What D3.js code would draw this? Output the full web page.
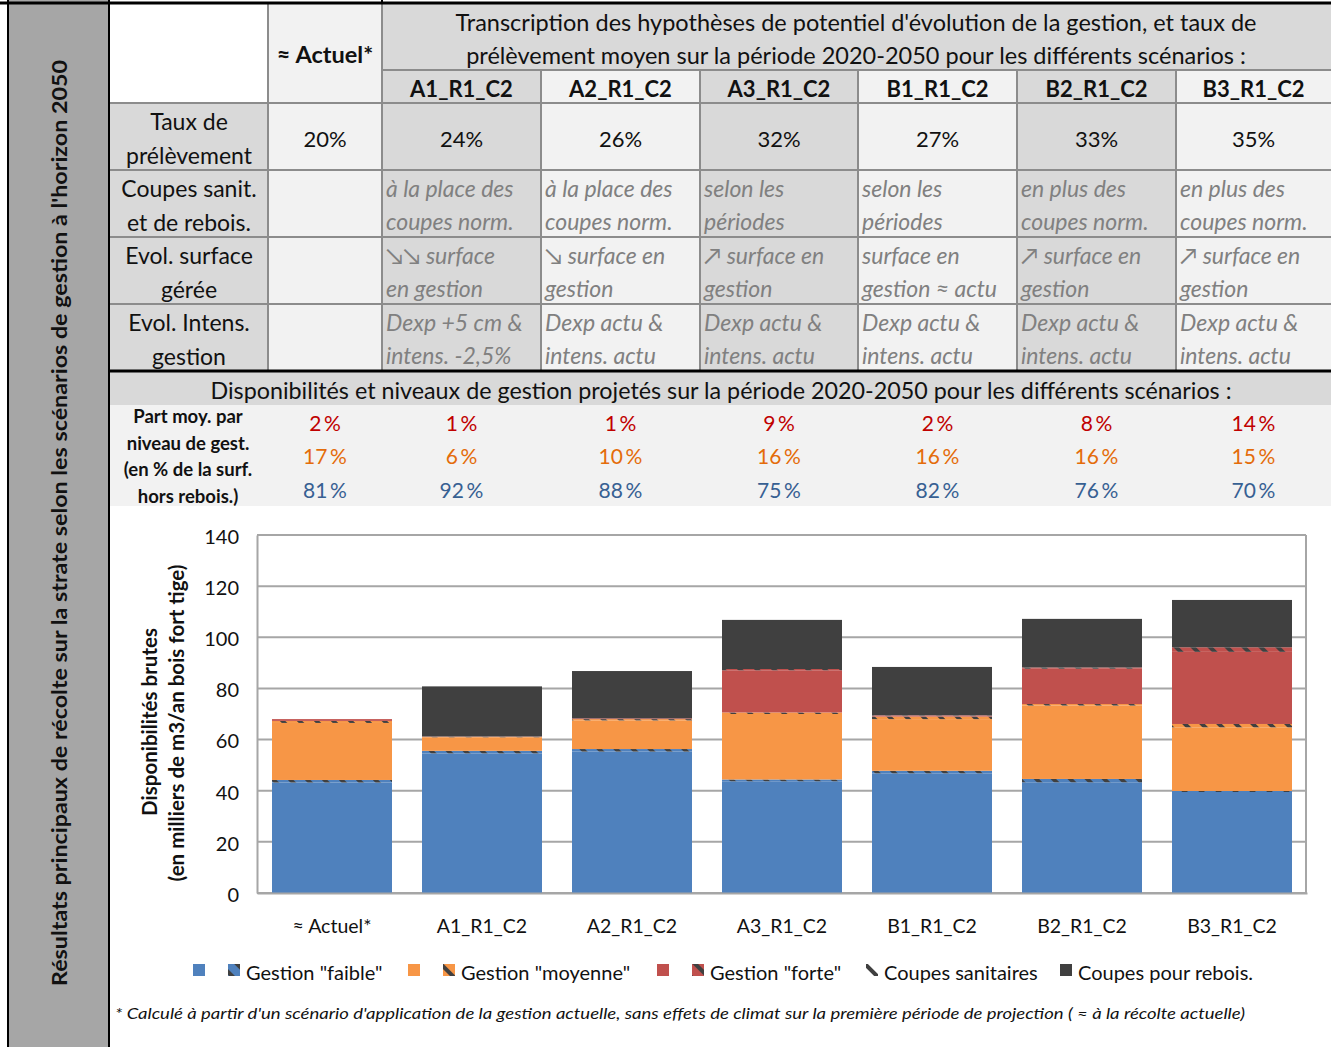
<!DOCTYPE html>
<html><head><meta charset="utf-8">
<script src="https://cdn.jsdelivr.net/npm/d3@7"></script>
<style>
body{margin:0;background:#fff}
svg{display:block}
text{font-family:Lato,'Open Sans','DejaVu Sans',sans-serif}
</style>
</head><body><div id="c"></div>
<script>
// ---------- data ----------
const categories = ["≈ Actuel*", "A1_R1_C2", "A2_R1_C2", "A3_R1_C2", "B1_R1_C2", "B2_R1_C2", "B3_R1_C2"];
const scenarios = ["A1_R1_C2", "A2_R1_C2", "A3_R1_C2", "B1_R1_C2", "B2_R1_C2", "B3_R1_C2"];
const tauxPrelevement = ["20%", "24%", "26%", "32%", "27%", "33%", "35%"];
const rowLabels = [["Taux de", "prélèvement"], ["Coupes sanit.", "et de rebois."], ["Evol. surface", "gérée"], ["Evol. Intens.", "gestion"]];
const coupesRow = [["", ""], ["à la place des", "coupes norm."], ["à la place des", "coupes norm."], ["selon les", "périodes"], ["selon les", "périodes"], ["en plus des", "coupes norm."], ["en plus des", "coupes norm."]];
const surfaceRow = [["", ""], ["↘↘ surface", "en gestion"], ["↘ surface en", "gestion"], ["↗ surface en", "gestion"], ["surface en", "gestion ≈ actu"], ["↗ surface en", "gestion"], ["↗ surface en", "gestion"]];
const intensRow = [["", ""], ["Dexp +5 cm &", "intens. -2,5%"], ["Dexp actu &", "intens. actu"], ["Dexp actu &", "intens. actu"], ["Dexp actu &", "intens. actu"], ["Dexp actu &", "intens. actu"], ["Dexp actu &", "intens. actu"]];
const partForte = [2, 1, 1, 9, 2, 8, 14];
const partMoyenne = [17, 6, 10, 16, 16, 16, 15];
const partFaible = [81, 92, 88, 75, 82, 76, 70];
const partLabels = ["Part moy. par", "niveau de gest.", "(en % de la surf.", "hors rebois.)"];

// volumes (milliers de m3/an)
const gestFaible      = [43.2, 54.6, 55.3, 43.7, 46.8, 43.3, 39.5];
const gestFaibleSanit = [1.0, 1.0, 1.0, 0.7, 1.0, 1.3, 0.4];
const gestMoyenne     = [22.3, 5.3, 11.2, 25.6, 20.2, 28.7, 24.9];
const gestMoyenneSanit= [0.8, 0.2, 0.5, 0.6, 1.0, 0.6, 1.3];
const gestForte       = [0.7, 0.1, 0.3, 16.5, 0.3, 13.8, 28.2];
const gestForteSanit  = [0.0, 0.0, 0.0, 0.5, 0.2, 0.5, 1.8];
const coupesRebois    = [0.0, 19.6, 18.5, 19.2, 18.9, 19.0, 18.5];
const yTicks = [0, 20, 40, 60, 80, 100, 120, 140];
const legendItems = [
  {key: "faible", label: ""}, {key: "faibleSanit", label: "Gestion \"faible\""},
  {key: "moyenne", label: ""}, {key: "moyenneSanit", label: "Gestion \"moyenne\""},
  {key: "forte", label: ""}, {key: "forteSanit", label: "Gestion \"forte\""},
  {key: "sanit", label: "Coupes sanitaires"}, {key: "rebois", label: "Coupes pour rebois."}
];

// ---------- setup ----------
const W = 1331, H = 1047;
const svg = d3.select("#c").append("svg").attr("width", W).attr("height", H);
const defs = svg.append("defs");
const colors = {faible: "#4f81bd", moyenne: "#f79646", forte: "#c0504d", rebois: "#404040", sanit: "#ffffff"};
function hatch(id, base) {
  const p = defs.append("pattern").attr("id", id).attr("patternUnits", "userSpaceOnUse")
    .attr("width", 12).attr("height", 12).attr("patternTransform", "rotate(-45)");
  p.append("rect").attr("width", 12).attr("height", 12).attr("fill", base);
  p.append("rect").attr("x", 0).attr("width", 4).attr("height", 12).attr("fill", "#404040");
}
hatch("hb", colors.faible); hatch("ho", colors.moyenne); hatch("hr", colors.forte); hatch("hs", "#ffffff");
const fills = {faible: colors.faible, faibleSanit: "url(#hb)", moyenne: colors.moyenne, moyenneSanit: "url(#ho)",
  forte: colors.forte, forteSanit: "url(#hr)", sanit: "url(#hs)", rebois: colors.rebois};

const lineGray = "#8c8c8c";
const dark = "#d9d9d9", light = "#f2f2f2";
const TF = 23; // table font size

// ---------- left column ----------
svg.append("rect").attr("x", 8).attr("y", 0).attr("width", 101).attr("height", H).attr("fill", "#a6a6a6");
svg.append("line").attr("x1", 8).attr("x2", 8).attr("y1", 0).attr("y2", H).attr("stroke", "#000").attr("stroke-width", 2);
svg.append("line").attr("x1", 109).attr("x2", 109).attr("y1", 0).attr("y2", H).attr("stroke", "#000").attr("stroke-width", 2);
svg.append("text").attr("transform", "translate(67,523) rotate(-90)").attr("text-anchor", "middle")
  .attr("font-size", 21).attr("font-weight", "bold").attr("fill", "#111")
  .attr("textLength", 926).attr("lengthAdjust", "spacingAndGlyphs")
  .text("Résultats principaux de récolte sur la strate selon les scénarios de gestion à l'horizon 2050");

// ---------- table ----------
const colEdges = [110, 268, 382, 541, 700, 858, 1017, 1176, 1331];
const rowEdges = [103, 170, 237, 304, 371];
const colFill = i => i === 0 ? dark : (i === 1 ? light : ((i - 2) % 2 === 0 ? dark : light));
const tbl = svg.append("g");
// header
tbl.append("rect").attr("x", 110).attr("y", 4).attr("width", 158).attr("height", 99).attr("fill", "#fff");
tbl.append("rect").attr("x", 268).attr("y", 4).attr("width", 114).attr("height", 99).attr("fill", light);
tbl.append("rect").attr("x", 382).attr("y", 4).attr("width", 949).attr("height", 66).attr("fill", dark);
scenarios.forEach((s, j) => {
  const x0 = colEdges[j + 2], x1 = colEdges[j + 3];
  tbl.append("rect").attr("x", x0).attr("y", 70).attr("width", x1 - x0).attr("height", 33).attr("fill", colFill(j + 2));
  tbl.append("text").attr("x", (x0 + x1) / 2).attr("y", 97).attr("text-anchor", "middle")
    .attr("font-size", 22).attr("font-weight", "bold").attr("fill", "#111").text(s);
});
tbl.append("text").attr("x", 325).attr("y", 63).attr("text-anchor", "middle").attr("font-size", 23.5)
  .attr("font-weight", "bold").attr("fill", "#111").text("≈ Actuel*");
tbl.append("text").attr("x", 856).attr("y", 31).attr("text-anchor", "middle").attr("font-size", 23.5).attr("fill", "#111")
  .text("Transcription des hypothèses de potentiel d'évolution de la gestion, et taux de");
tbl.append("text").attr("x", 856).attr("y", 64).attr("text-anchor", "middle").attr("font-size", 23.5).attr("fill", "#111")
  .text("prélèvement moyen sur la période 2020-2050 pour les différents scénarios :");

// body rows
const rowData = [null, coupesRow, surfaceRow, intensRow];
rowLabels.forEach((lab, r) => {
  const y0 = rowEdges[r], y1 = rowEdges[r + 1];
  for (let i = 0; i < 8; i++) {
    tbl.append("rect").attr("x", colEdges[i]).attr("y", y0).attr("width", colEdges[i + 1] - colEdges[i])
      .attr("height", y1 - y0).attr("fill", colFill(i));
  }
  tbl.append("text").attr("x", 189).attr("y", y0 + 27).attr("text-anchor", "middle").attr("font-size", TF).attr("fill", "#111").text(lab[0]);
  tbl.append("text").attr("x", 189).attr("y", y0 + 61).attr("text-anchor", "middle").attr("font-size", TF).attr("fill", "#111").text(lab[1]);
  if (r === 0) {
    tauxPrelevement.forEach((t, i) => {
      tbl.append("text").attr("x", (colEdges[i + 1] + colEdges[i + 2]) / 2).attr("y", y0 + 44)
        .attr("text-anchor", "middle").attr("font-size", 22).attr("fill", "#111").text(t);
    });
  } else {
    rowData[r].forEach((t, i) => {
      const x = colEdges[i + 1] + 4;
      tbl.append("text").attr("x", x).attr("y", y0 + 27).attr("font-size", TF).attr("font-style", "italic").attr("fill", "#808080").text(t[0]);
      tbl.append("text").attr("x", x).attr("y", y0 + 60).attr("font-size", TF).attr("font-style", "italic").attr("fill", "#808080").text(t[1]);
    });
  }
});
// grid lines
[70].forEach(y => tbl.append("line").attr("x1", 382).attr("x2", 1331).attr("y1", y).attr("y2", y).attr("stroke", lineGray).attr("stroke-width", 2));
[103, 170, 237, 304].forEach(y => tbl.append("line").attr("x1", 110).attr("x2", 1331).attr("y1", y).attr("y2", y).attr("stroke", lineGray).attr("stroke-width", 2));
colEdges.slice(1, 8).forEach((x, i) => {
  tbl.append("line").attr("x1", x).attr("x2", x).attr("y1", i < 2 ? 4 : 70).attr("y2", 371).attr("stroke", lineGray).attr("stroke-width", 2);
});
svg.append("line").attr("x1", 0).attr("x2", W).attr("y1", 3).attr("y2", 3).attr("stroke", "#000").attr("stroke-width", 3);
svg.append("line").attr("x1", 382).attr("x2", 382).attr("y1", 0).attr("y2", 3).attr("stroke", "#000").attr("stroke-width", 2);

// ---------- dispo band ----------
svg.append("rect").attr("x", 110).attr("y", 372).attr("width", W - 110).attr("height", 33).attr("fill", dark);
svg.append("rect").attr("x", 110).attr("y", 405).attr("width", W - 110).attr("height", 101).attr("fill", light);
svg.append("line").attr("x1", 109).attr("x2", W).attr("y1", 371).attr("y2", 371).attr("stroke", "#000").attr("stroke-width", 3);
svg.append("text").attr("x", 721).attr("y", 399).attr("text-anchor", "middle").attr("font-size", 23.3).attr("fill", "#111")
  .text("Disponibilités et niveaux de gestion projetés sur la période 2020-2050 pour les différents scénarios :");
partLabels.forEach((t, i) => {
  svg.append("text").attr("x", 188).attr("y", 423 + i * 26.5).attr("text-anchor", "middle").attr("font-size", 18.5)
    .attr("font-weight", "bold").attr("fill", "#111").text(t);
});
const colCenters = d3.range(7).map(i => (colEdges[i + 1] + colEdges[i + 2]) / 2);
[[partForte, "#c00000", 431], [partMoyenne, "#e46c0a", 464], [partFaible, "#376092", 498]].forEach(([arr, col, y]) => {
  arr.forEach((v, i) => {
    svg.append("text").attr("x", colCenters[i]).attr("y", y).attr("text-anchor", "middle").attr("font-size", 21)
      .attr("fill", col).text(v + "\u2009%");
  });
});

// ---------- chart ----------
const x = d3.scaleBand().domain(categories).range([257, 1307]).paddingInner(0.2).paddingOuter(0.1);
const y = d3.scaleLinear().domain([0, 140]).range([893, 535]);
const chart = svg.append("g");
chart.append("g").selectAll("line").data(yTicks).join("line")
  .attr("x1", 257).attr("x2", 1306).attr("y1", d => y(d)).attr("y2", d => y(d))
  .attr("stroke", "#a6a6a6").attr("stroke-width", 2);
chart.append("line").attr("x1", 1306).attr("x2", 1306).attr("y1", y(140)).attr("y2", y(0)).attr("stroke", "#a6a6a6").attr("stroke-width", 2);
const yAxis = chart.append("g").attr("transform", "translate(257,0)")
  .call(d3.axisLeft(y).tickValues(yTicks).tickSize(0).tickPadding(18));
yAxis.select(".domain").attr("stroke", "#a6a6a6").attr("stroke-width", 2);
yAxis.selectAll("text").attr("font-size", 20).attr("fill", "#111").attr("dy", "0.42em").attr("font-family", "Lato,'Open Sans',sans-serif");

const keys = ["faible", "faibleSanit", "moyenne", "moyenneSanit", "forte", "forteSanit", "rebois"];
const series = [gestFaible, gestFaibleSanit, gestMoyenne, gestMoyenneSanit, gestForte, gestForteSanit, coupesRebois];
const table = categories.map((c, i) => {
  const o = {cat: c};
  keys.forEach((k, j) => o[k] = series[j][i]);
  return o;
});
const stacked = d3.stack().keys(keys)(table);
chart.append("g").selectAll("g").data(stacked).join("g").attr("fill", d => fills[d.key])
  .selectAll("rect").data(d => d).join("rect")
  .attr("x", d => x(d.data.cat)).attr("width", x.bandwidth())
  .attr("y", d => y(d[1])).attr("height", d => Math.max(0, y(d[0]) - y(d[1])));

const xAxis = chart.append("g").attr("transform", "translate(0,893)")
  .call(d3.axisBottom(x).tickSize(0).tickPadding(26));
xAxis.select(".domain").attr("stroke", "#a6a6a6").attr("stroke-width", 2);
xAxis.selectAll("text").attr("font-size", 19.5).attr("fill", "#111").attr("font-family", "Lato,'Open Sans',sans-serif");

chart.append("text").attr("transform", "translate(157,722) rotate(-90)").attr("text-anchor", "middle")
  .attr("font-size", 20.5).attr("font-weight", "bold").attr("fill", "#111").text("Disponibilités  brutes");
chart.append("text").attr("transform", "translate(184,723) rotate(-90)").attr("text-anchor", "middle")
  .attr("font-size", 20.5).attr("font-weight", "bold").attr("fill", "#111").text("(en milliers de m3/an bois fort tige)");

// ---------- legend ----------
const legX = [193, 228, 408, 443, 657, 692, 866, 1060];
const leg = svg.append("g");
legendItems.forEach((it, i) => {
  leg.append("rect").attr("x", legX[i]).attr("y", 964).attr("width", 12).attr("height", 12).attr("fill", fills[it.key]);
  if (it.label) leg.append("text").attr("x", legX[i] + 18).attr("y", 980).attr("font-size", 20).attr("fill", "#111").text(it.label);
});

// ---------- footnote ----------
svg.append("text").attr("x", 115).attr("y", 1019).attr("font-size", 16).attr("font-style", "italic").attr("fill", "#111")
  .attr("textLength", 1130).attr("lengthAdjust", "spacingAndGlyphs")
  .text("* Calculé à partir d'un scénario d'application de la gestion actuelle, sans effets de climat sur la première période de projection ( ≈ à la récolte actuelle)");
</script>
</body></html>
